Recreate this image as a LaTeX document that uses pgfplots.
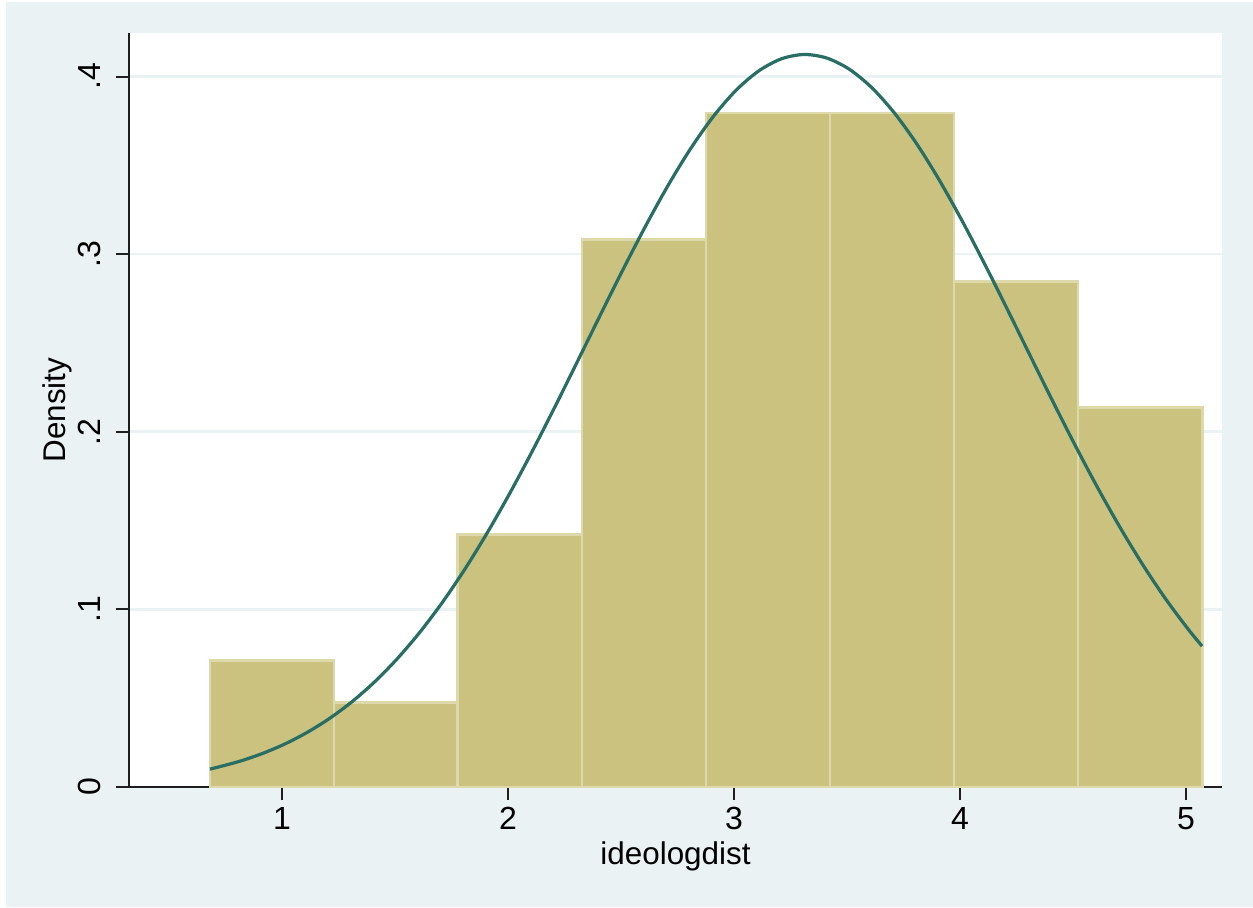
\documentclass[border=0pt]{standalone}
\usepackage{pgfplots}
\pgfplotsset{compat=1.18}
\usepackage{fontspec}
\setmainfont{Liberation Sans}
\definecolor{bgblue}{RGB}{234,242,243}
\definecolor{barfill}{RGB}{202,194,126}
\definecolor{baredge}{RGB}{222,217,170}
\definecolor{curve}{RGB}{40,110,100}
\definecolor{axcol}{RGB}{30,30,30}
\begin{document}
\begin{tikzpicture}
\path[use as bounding box] (-64.5pt,-60pt) rectangle (562pt,393.5pt);
\fill[white] (-64.5pt,-60pt) rectangle (562pt,393.5pt);
\fill[bgblue] (-61.5pt,-60pt) rectangle (562pt,392.5pt);
\begin{axis}[
  at={(0,0)}, anchor=south west,
  scale only axis,
  width=546.5pt, height=377pt,
  xmin=0.323, xmax=5.159,
  ymin=0, ymax=0.4245,
  axis lines*=left,
  axis line style={axcol, line width=1pt},
  axis background/.style={fill=white},
  xtick={1,2,3,4,5},
  ytick={0,0.1,0.2,0.3,0.4},
  yticklabels={0,.1,.2,.3,.4},
  tick align=outside,
  major tick length=6.5pt,
  tick style={axcol, line width=1pt},
  minor tick num=0,
  ymajorgrids,
  grid style={bgblue, line width=1.3pt},
  /pgf/number format/assume math mode=true,
  tick label style={font=\fontsize{16}{18}\selectfont},
  yticklabel style={rotate=90, anchor=south, inner ysep=7.3pt},
  xlabel={ideologdist},
  ylabel={Density},
  label style={font=\fontsize{15.7}{18}\selectfont},
  xlabel style={at={(axis description cs:0.5,-0.1034)}, anchor=base},
  ylabel style={at={(axis description cs:-0.0581,0.5)}, anchor=base},
  clip=false,
]
\addplot[ybar interval, fill=barfill, draw=baredge, line width=1.4pt]
  coordinates {(0.681,0.0712) (1.230,0.0474) (1.778,0.1423) (2.327,0.3083) (2.876,0.3795) (3.425,0.3795) (3.973,0.2846) (4.522,0.2135) (5.071,0.2135)};
\addplot[curve, line width=1.6pt, smooth, mark=none]
  coordinates {(0.681,0.0101) (0.70,0.01065) (0.81,0.01439) (0.91,0.01871) (1.01,0.02407) (1.11,0.03064) (1.21,0.03858) (1.31,0.04805) (1.41,0.05922) (1.51,0.07224) (1.61,0.08716) (1.71,0.10402) (1.81,0.12283) (1.91,0.14352) (2.01,0.16589) (2.11,0.18972) (2.21,0.21467) (2.31,0.24031) (2.41,0.26615) (2.51,0.29162) (2.61,0.31615) (2.71,0.33910) (2.81,0.35982) (2.91,0.37777) (3.01,0.39240) (3.11,0.40322) (3.21,0.40998) (3.31,0.41240) (3.41,0.41041) (3.51,0.40410) (3.61,0.39365) (3.71,0.37939) (3.81,0.36177) (3.91,0.34128) (4.01,0.31853) (4.11,0.29414) (4.21,0.26872) (4.31,0.24289) (4.41,0.21721) (4.51,0.19217) (4.61,0.16821) (4.71,0.14568) (4.81,0.12483) (4.91,0.10581) (5.01,0.08874) (5.071,0.0793)};
\end{axis}
\end{tikzpicture}
\end{document}
